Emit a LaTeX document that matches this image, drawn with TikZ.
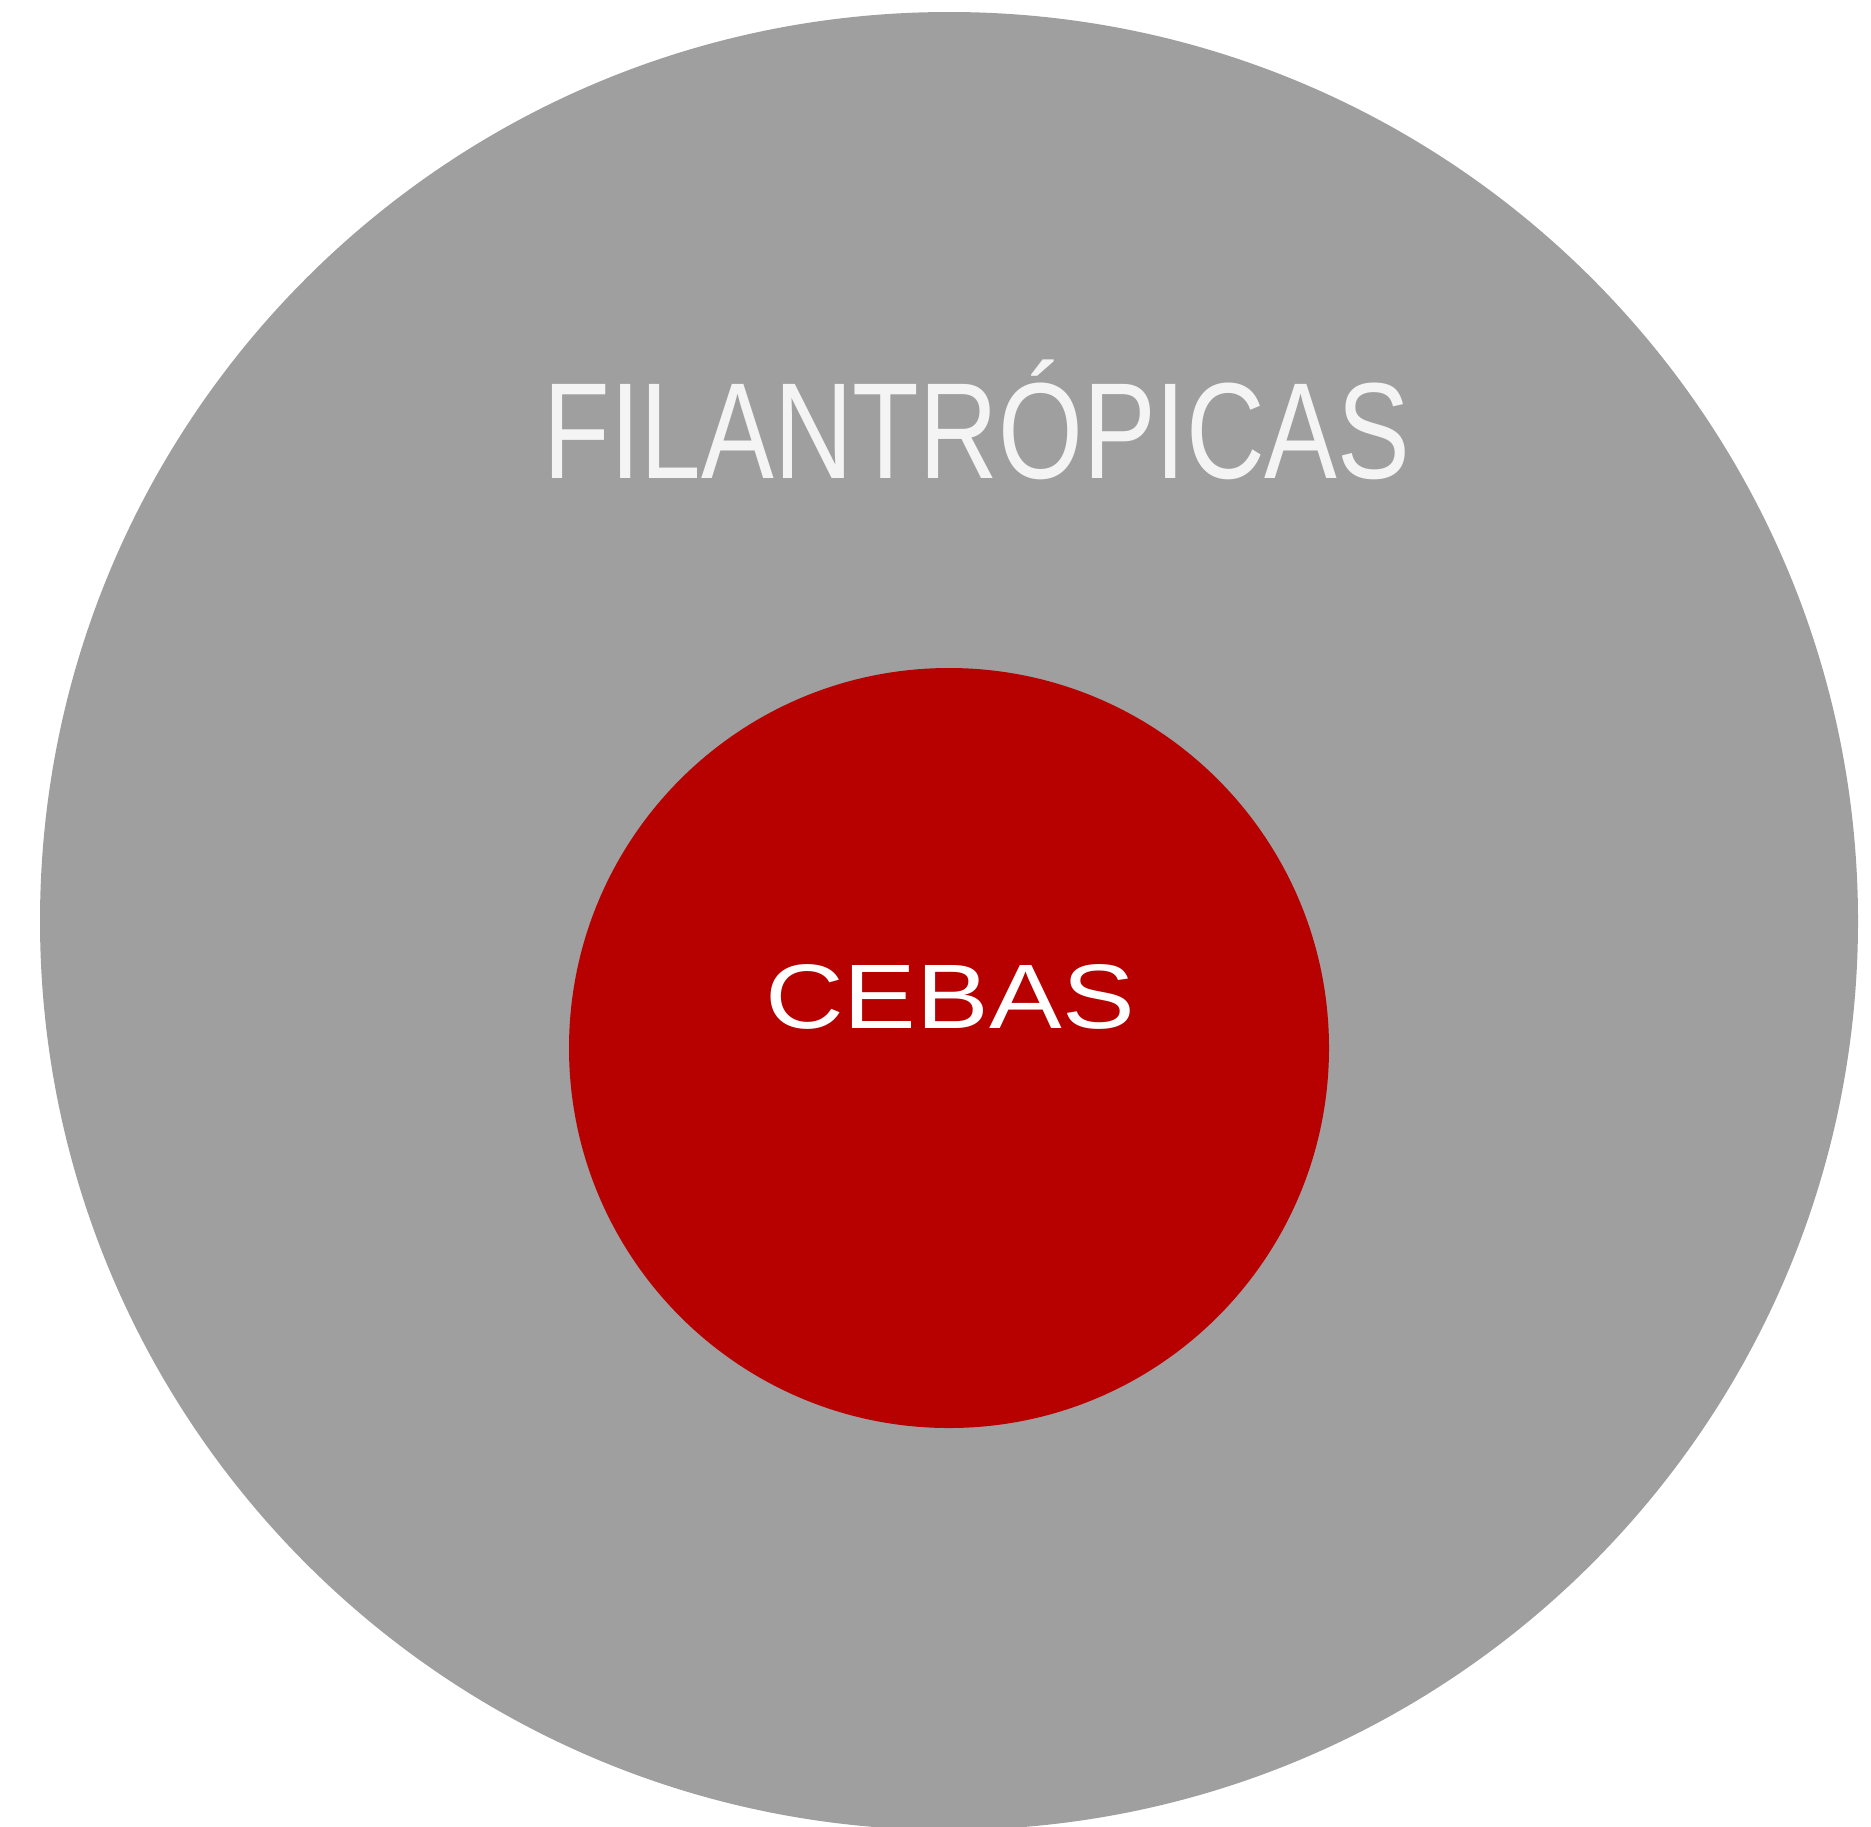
\documentclass[tikz,border=0pt]{standalone}
\usepackage{fontspec}
\setmainfont{Liberation Sans}
\definecolor{cinza}{HTML}{9F9F9F}
\definecolor{vermelho}{HTML}{B70000}
\definecolor{branco}{HTML}{F4F4F4}
\begin{document}
\begin{tikzpicture}[x=0.5pt, y=-0.5pt, line join=round, line cap=round]
            \useasboundingbox (0,0) rectangle (1871,1826);
            \clip (0,0) rectangle (1871,1826);
            \fill[cinza] (949,921) circle[radius=454.5pt];
            \fill[vermelho] (949,1048) circle[radius=190pt];
            \node (filantropicas) at (977,478.5) [anchor=base, inner sep=0pt, text=branco, font=\fontsize{68.4}{72}\selectfont]{\scalebox{0.797}[1]{FILANTRÓPICAS}};
            \node (cebas) at (950,1028.5) [anchor=base, inner sep=0pt, text=white, font=\fontsize{45.8}{50}\selectfont]{\scalebox{1.19}[1]{CEBAS}};
        \end{tikzpicture}
\end{document}
